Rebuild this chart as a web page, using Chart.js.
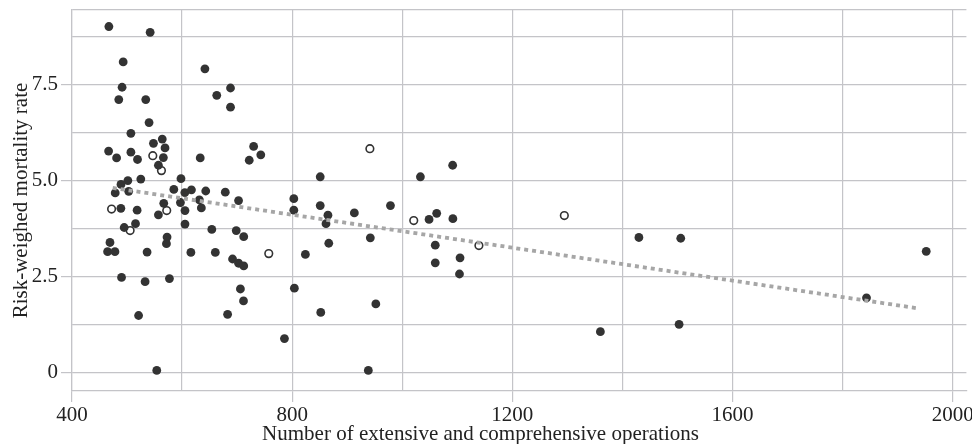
<!DOCTYPE html>
<html>
<head>
<meta charset="utf-8">
<script src="https://cdn.jsdelivr.net/npm/chart.js@4.4.1/dist/chart.umd.min.js"></script>
<style>
  html, body { margin: 0; padding: 0; background: #fff; }
  #chart { display: block; }
</style>
</head>
<body>
<canvas id="chart" width="972" height="444"></canvas>
<script>
// filled markers
const filledX = [
  467, 542, 493, 641.5, 491, 688, 485, 534, 663, 688,
  540, 507, 466.5, 481, 507, 519, 548, 564, 569, 566, 557, 633, 730, 743, 722,
  598, 525, 501.5, 489, 478.5, 503, 585, 605, 617, 643, 678.5, 702.6,
  566.7, 597, 631.4, 488.8, 518.3, 557, 605.3, 635, 605.3, 494.8, 515.4, 654, 698.4,
  712, 572.7, 571.6, 469, 464.7, 478, 536.4, 616, 660.4, 691.7, 702.6, 712,
  490, 532.8, 577, 706, 711.6, 682.7, 521, 554,
  803, 803, 851, 851, 865, 824, 804, 852, 786, 861.5, 866.5, 913, 978.6, 942,
  1033, 1091.6, 1048.7, 1062.6, 1092, 1060, 1060, 1105, 1104, 952, 938.4,
  1360, 1430, 1506, 1503, 1843.5, 1952
];
const filledY = [
  9.00, 8.85, 8.08, 7.90, 7.42, 7.40, 7.10, 7.10, 7.21, 6.90,
  6.50, 6.22, 5.76, 5.58, 5.73, 5.54, 5.96, 6.07, 5.84, 5.59, 5.39, 5.58, 5.88, 5.66, 5.52,
  5.04, 5.03, 4.99, 4.89, 4.67, 4.71, 4.76, 4.68, 4.75, 4.72, 4.69, 4.47,
  4.40, 4.42, 4.49, 4.27, 4.22, 4.10, 4.21, 4.28, 3.86, 3.77, 3.87, 3.72, 3.69,
  3.53, 3.52, 3.35, 3.38, 3.14, 3.14, 3.13, 3.12, 3.12, 2.95, 2.84, 2.77,
  2.47, 2.36, 2.44, 2.17, 1.86, 1.51, 1.48, 0.05,
  4.52, 4.22, 5.09, 4.34, 4.09, 3.07, 2.19, 1.56, 0.88, 3.87, 3.36, 4.15, 4.34, 3.50,
  5.09, 5.39, 3.98, 4.14, 4.00, 3.31, 2.85, 2.98, 2.56, 1.78, 0.05,
  1.06, 3.51, 3.49, 1.25, 1.94, 3.15
];
// open markers
const openX = [546.8, 562.5, 471.9, 572.1, 505.6, 757.5, 941.2, 1020.9, 1139.3, 1294.5];
const openY = [5.64, 5.25, 4.25, 4.21, 3.69, 3.09, 5.82, 3.95, 3.30, 4.08];
// fitted line end points
const trendX = [474, 1940];
const trendY = [4.80, 1.66];

const xTicks = [400, 600, 800, 1000, 1200, 1400, 1600, 1800, 2000];
const xLabels = ['400', '', '800', '', '1200', '', '1600', '', '2000'];
const yTicks = [0, 1.25, 2.5, 3.75, 5, 6.25, 7.5, 8.75];
const yLabels = ['0', '', '2.5', '', '5.0', '', '7.5', ''];

const X_MIN = 400, X_MAX = 2025;
const Y_MIN = -0.485, Y_MAX = 9.43;

const X_TITLE = 'Number of extensive and comprehensive operations';
const Y_TITLE = 'Risk-weighed mortality rate';

const GRID = '#c4c4c8';
const DOT = '#333333';
const TEXT = '#222222';
const FONT = 'Liberation Serif';

const toPts = (xs, ys) => xs.map((x, i) => ({ x, y: ys[i] }));
const labelAt = (ticks, labels, v) => {
  const i = ticks.indexOf(v);
  return i >= 0 ? labels[i] : '';
};

// the "2000" label is allowed to run off the right edge, as in the original
function noSidePadding(axis) {
  axis.height = 53;
  axis.paddingLeft = 0;
  axis.paddingRight = 0;
  if (axis._margins) { axis._margins.left = 0; axis._margins.right = 0; }
}

// x title is not centred on the plot area in the original, draw it ourselves
const xTitlePlugin = {
  id: 'xTitle',
  afterDraw(chart) {
    const c = chart.ctx;
    c.save();
    c.font = `21px "${FONT}"`;
    c.fillStyle = TEXT;
    c.textAlign = 'center';
    c.textBaseline = 'alphabetic';
    c.fillText(X_TITLE, 480.5, 440);
    c.restore();
  }
};

new Chart(document.getElementById('chart'), {
  data: {
    datasets: [
      {
        type: 'line',
        data: toPts(trendX, trendY),
        borderColor: '#a6a6a6',
        borderWidth: 3.8,
        borderDash: [4, 4],
        pointRadius: 0,
        fill: false,
        order: 0
      },
      {
        type: 'scatter',
        data: toPts(filledX, filledY),
        backgroundColor: DOT,
        borderColor: DOT,
        borderWidth: 0,
        pointRadius: 4.4,
        order: 1
      },
      {
        type: 'scatter',
        data: toPts(openX, openY),
        backgroundColor: '#ffffff',
        borderColor: DOT,
        borderWidth: 1.6,
        pointRadius: 3.8,
        order: 1
      }
    ]
  },
  options: {
    responsive: false,
    animation: false,
    events: [],
    layout: { padding: { top: 10, right: 3, left: 0, bottom: 0 } },
    plugins: { legend: { display: false }, tooltip: { enabled: false } },
    scales: {
      x: {
        type: 'linear',
        min: X_MIN,
        max: X_MAX,
        afterBuildTicks: axis => { axis.ticks = xTicks.map(v => ({ value: v })); },
        afterFit: noSidePadding,
        grid: {
          color: GRID,
          lineWidth: 1.2,
          tickLength: 11,
          tickColor: ctx => labelAt(xTicks, xLabels, ctx.tick && ctx.tick.value) ? GRID : 'rgba(0,0,0,0)'
        },
        border: { display: true, color: GRID, width: 1.2 },
        ticks: {
          autoSkip: false,
          maxRotation: 0,
          padding: 1,
          color: TEXT,
          font: { family: FONT, size: 21 },
          callback: v => labelAt(xTicks, xLabels, v)
        }
      },
      y: {
        type: 'linear',
        min: Y_MIN,
        max: Y_MAX,
        afterBuildTicks: axis => { axis.ticks = yTicks.concat([Y_MAX]).map(v => ({ value: v })); },
        afterFit: axis => { axis.width = 72; axis.paddingTop = 0; axis.paddingBottom = 0; },
        grid: {
          color: GRID,
          lineWidth: 1.2,
          tickLength: 11,
          tickColor: ctx => labelAt(yTicks, yLabels, ctx.tick && ctx.tick.value) ? GRID : 'rgba(0,0,0,0)'
        },
        border: { display: true, color: GRID, width: 1.2 },
        ticks: {
          autoSkip: false,
          padding: 3,
          color: TEXT,
          font: { family: FONT, size: 21 },
          callback: v => labelAt(yTicks, yLabels, v)
        },
        title: {
          display: true,
          text: Y_TITLE,
          color: TEXT,
          font: { family: FONT, size: 21, lineHeight: 1 },
          padding: { top: 11, bottom: 0 }
        }
      }
    }
  },
  plugins: [xTitlePlugin]
});
</script>
</body>
</html>
